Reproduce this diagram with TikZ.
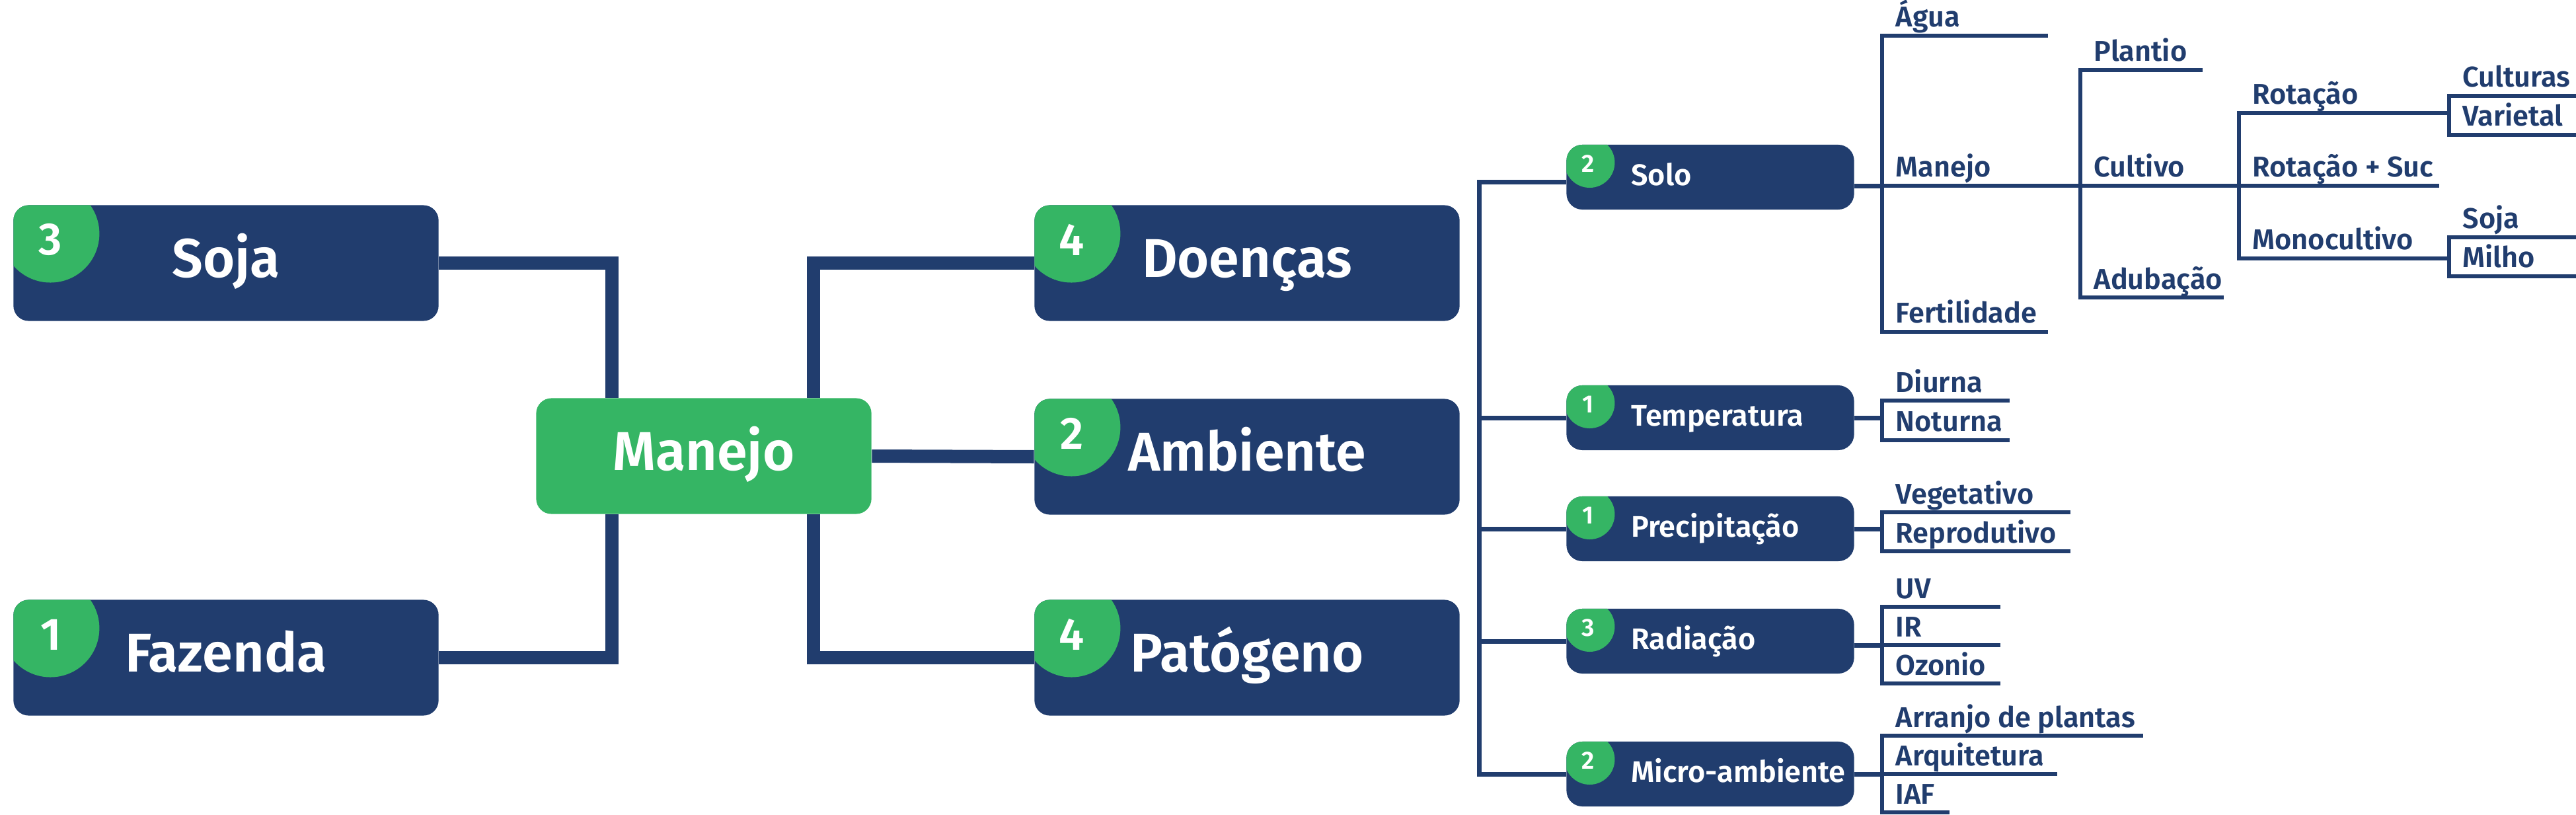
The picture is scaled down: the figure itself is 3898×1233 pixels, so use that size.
\documentclass[tikz,border=0pt]{standalone}
\usepackage{fontspec}
\setmainfont{Fira Sans SemiBold}
\definecolor{navy}{RGB}{33,61,110}
\definecolor{badgegreen}{RGB}{53,181,100}
\newcommand{\cardfont}{\fontsize{23.5pt}{28pt}\selectfont}
\newcommand{\topicfont}{\fontsize{12.8pt}{15pt}\selectfont}
\newcommand{\leaffont}{\fontsize{12.3pt}{15pt}\selectfont}
\newcommand{\badgefont}{\fontsize{19.5pt}{23pt}\selectfont}
\newcommand{\dotfont}{\fontsize{10.7pt}{13pt}\selectfont}
\begin{document}
\begin{tikzpicture}[x=0.01cm, y=-0.01cm,
    bigbox/.style={rounded corners=0.23cm, fill=navy, text=white, font=\cardfont,
        minimum width=6.43cm, minimum height=1.75cm, inner sep=0pt,
        text height=0.57cm, text depth=0.15cm,
        path picture={\fill[badgegreen] ([shift={(0.56cm,-0.43cm)}]path picture bounding box.north west) circle[radius=0.74cm];}},
    bignum/.style={anchor=center, inner sep=0pt, text=white, font=\badgefont, xshift=0.57cm, yshift=0.35cm},
    smallbox/.style={rounded corners=0.24cm, fill=navy, minimum width=4.35cm, minimum height=0.98cm, inner sep=0pt,
        path picture={\fill[badgegreen] ([shift={(0.35cm,-0.27cm)}]path picture bounding box.north west) circle[radius=0.38cm];}},
    smallnum/.style={anchor=center, inner sep=0pt, text=white, font=\dotfont, xshift=0.33cm, yshift=0.2cm},
    boxtext/.style={anchor=base west, inner sep=0pt, text=white, font=\topicfont, xshift=0.98cm, yshift=-0.12cm},
    leaf/.style={fill=navy, inner sep=0pt, minimum height=0.065cm, anchor=west, label={[leaftext]west:#1}},
    leaftext/.style={anchor=base west, inner sep=0pt, text=navy, font=\leaffont, xshift=0.2cm, yshift=0.13cm},
    trunk/.style={navy, line width=0.2cm},
    branch/.style={navy, line width=0.07cm},
    bracket/.style={navy, line width=0.065cm, line cap=rect}]

    \useasboundingbox (0,0) rectangle (3898,1233);

    % left side
    \node (soja) [bigbox, label={[bignum]west:3}] at (342,398) {Soja};
    \node (fazenda) [bigbox, label={[bignum]west:1}] at (342,995) {Fazenda};
    \node (manejo) [bigbox, fill=badgegreen, minimum width=5.07cm, path picture={}] at (1065,690) {Manejo};

    \node (doencas) [bigbox, label={[bignum]west:4}] at (1887,398) {Doenças};
    \node (ambiente) [bigbox, label={[bignum]west:2}] at (1887,691) {Ambiente};
    \node (patogeno) [bigbox, label={[bignum]west:4}] at (1887,995) {Patógeno};

    \coordinate (leftbus) at (926,690);
    \coordinate (rightbus) at (1231,690);

    \draw [trunk] (soja.east) -| (leftbus |- manejo.north);
    \draw [trunk] (fazenda.east) -| (leftbus |- manejo.south);
    \draw [trunk] (manejo.east) -- (ambiente.west);
    \draw [trunk] (doencas.west) -| (rightbus |- manejo.north);
    \draw [trunk] (patogeno.west) -| (rightbus |- manejo.south);

    % factors
    \node (solo) [smallbox, label={[smallnum]west:2}, label={[boxtext]west:Solo}] at (2588,268) {};
    \node (temperatura) [smallbox, label={[smallnum]west:1}, label={[boxtext]west:Temperatura}] at (2588,632) {};
    \node (precipitacao) [smallbox, label={[smallnum]west:1}, label={[boxtext]west:Precipitação}] at (2588,800) {};
    \node (radiacao) [smallbox, label={[smallnum]west:3}, label={[boxtext]west:Radiação}] at (2588,970) {};
    \node (micro) [smallbox, label={[smallnum]west:2}, label={[boxtext]west:Micro-ambiente}] at (2588,1171) {};

    \coordinate (spine) at (2238,700);

    \draw [branch] ([yshift=-0.07cm]solo.west) -| (spine |- micro.west) -- (micro.west);
    \draw [branch] (temperatura.west) -- (temperatura.west -| spine);
    \draw [branch] (precipitacao.west) -- (precipitacao.west -| spine);
    \draw [branch] (radiacao.west) -- (radiacao.west -| spine);

    % solo
    \node (agua) [leaf=Água, minimum width=2.5cm] at (2848,54) {};
    \node (manejosolo) [leaf=Manejo, minimum width=3cm] at (2848,281) {};
    \node (fertilidade) [leaf=Fertilidade, minimum width=2.5cm] at (2848,502) {};
    \node (plantio) [leaf=Plantio, minimum width=1.84cm] at (3148,106) {};
    \node (cultivo) [leaf=Cultivo, minimum width=2.4cm] at (3148,281) {};
    \node (adubacao) [leaf=Adubação, minimum width=2.16cm] at (3148,450) {};
    \node (rotacao) [leaf=Rotação, minimum width=3.18cm] at (3388,171) {};
    \node (rotsuc) [leaf=Rotação + Suc, minimum width=3.02cm] at (3388,281) {};
    \node (monocultivo) [leaf=Monocultivo, minimum width=3.18cm] at (3388,391) {};
    \node (culturas) [leaf=Culturas, minimum width=1.92cm] at (3706,145) {};
    \node (varietal) [leaf=Varietal, minimum width=1.92cm] at (3706,204) {};
    \node (sojamono) [leaf=Soja, minimum width=1.92cm] at (3706,359) {};
    \node (milho) [leaf=Milho, minimum width=1.92cm] at (3706,418) {};

    \draw [branch] (solo.east |- manejosolo.west) -- (manejosolo.west);
    \draw [bracket] (agua.west) -- (fertilidade.west);
    \draw [bracket] (plantio.west) -- (adubacao.west);
    \draw [bracket] (rotacao.west) -- (monocultivo.west);
    \draw [bracket] (culturas.west) -- (varietal.west);
    \draw [bracket] (sojamono.west) -- (milho.west);

    % temperatura, precipitacao
    \node (diurna) [leaf=Diurna, minimum width=1.92cm] at (2848,606) {};
    \node (noturna) [leaf=Noturna, minimum width=1.92cm] at (2848,666) {};
    \node (vegetativo) [leaf=Vegetativo, minimum width=2.84cm] at (2848,775) {};
    \node (reprodutivo) [leaf=Reprodutivo, minimum width=2.84cm] at (2848,834) {};

    \draw [branch] (temperatura.east) -- (temperatura.east -| diurna.west);
    \draw [bracket] (diurna.west) -- (noturna.west);
    \draw [branch] (precipitacao.east) -- (precipitacao.east -| vegetativo.west);
    \draw [bracket] (vegetativo.west) -- (reprodutivo.west);

    % radiacao, micro-ambiente
    \node (uv) [leaf=UV, minimum width=1.78cm] at (2848,918) {};
    \node (ir) [leaf=IR, minimum width=1.78cm] at (2848,976) {};
    \node (ozonio) [leaf=Ozonio, minimum width=1.78cm] at (2848,1034) {};
    \node (arranjo) [leaf=Arranjo de plantas, minimum width=3.94cm] at (2848,1113) {};
    \node (arquitetura) [leaf=Arquitetura, minimum width=2.64cm] at (2848,1171) {};
    \node (iaf) [leaf=IAF, minimum width=1.01cm] at (2848,1229) {};

    \draw [branch] (radiacao.east |- ir.west) -- (ir.west);
    \draw [bracket] (uv.west) -- (ozonio.west);
    \draw [branch] (micro.east) -- (arquitetura.west);
    \draw [bracket] (arranjo.west) -- (iaf.west);
\end{tikzpicture}
\end{document}
